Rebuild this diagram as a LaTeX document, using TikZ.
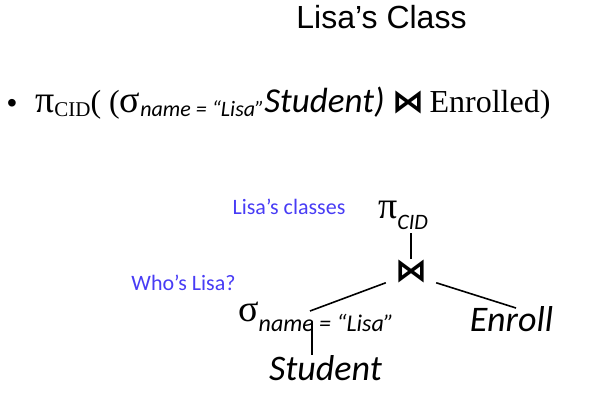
\documentclass[tikz,border=0pt]{standalone}
\usepackage{fontspec}
\setmainfont{Liberation Serif}
\newfontfamily\calfont{Carlito}
\newfontfamily\arialfont{Liberation Sans}
\newfontfamily\symfont{DejaVu Sans}
\usepackage{tikz}
\usetikzlibrary{positioning,calc}
\definecolor{notecol}{RGB}{72,60,245}

\begin{document}
\begin{tikzpicture}[x=1pt,y=-1pt,
    note/.style={text=notecol,font=\calfont\fontsize{22}{26}\selectfont,inner sep=0pt,anchor=base},
    rel/.style={font=\calfont\itshape\fontsize{36}{40}\selectfont,inner sep=0pt,anchor=base},
    edge/.style={line width=1.6pt}]
  \useasboundingbox (0,0) rectangle (604,401);
  \node[anchor=base,inner sep=0pt,font=\arialfont\fontsize{32}{38}\selectfont] (title) at (381.5,29) {Lisa’s Class};
  \node[anchor=base,inner sep=0pt,font=\arialfont\fontsize{28}{30}\selectfont] (bullet) at (12,112) {•};
  \node[anchor=base west,inner sep=0pt,font=\fontsize{32}{36}\selectfont] (expr) at (35,112)
    {{\fontsize{38}{38}\selectfont π}\raisebox{-4pt}{\fontsize{21}{22}\selectfont CID}(\hspace{8pt}({\fontsize{38}{38}\selectfont σ}\raisebox{-5pt}{\calfont\itshape\fontsize{22}{24}\selectfont name = “Lisa”}{\calfont\itshape\fontsize{35}{36}\selectfont Student)}\hspace{8pt}{\symfont\bfseries ⋈}\hspace{5pt}Enrolled)};
  % tree
  \node[note] (classes) at (289,214) {Lisa’s classes};
  \node[note] (who) at (183.5,290) {Who’s Lisa?};
  \node[anchor=base west,inner sep=0pt,font=\fontsize{38}{40}\selectfont] (pi) at (378,218)
    {π\raisebox{-11pt}{\calfont\itshape\fontsize{22}{22}\selectfont CID}};
  \node[minimum width=50pt,minimum height=22pt,inner sep=0pt,font=\symfont\bfseries\fontsize{32}{32}\selectfont] (join) at (411,271) {⋈};
  \node[anchor=base west,inner sep=0pt,font=\fontsize{38}{40}\selectfont] (sel) at (238,321)
    {σ\raisebox{-10pt}{\calfont\itshape\fontsize{24}{26}\selectfont name = “Lisa”}};
  \node[rel] (enroll) at (511.5,331) {Enroll};
  \node[rel] (student) at (325.5,380) {Student};
  \coordinate (selup) at (310,311);
  \coordinate (seldown) at (312,322);
  \draw[edge] (join.north) -- (join.north |- 0,233);
  \draw[edge] (join.south west) -- (selup);
  \draw[edge] (join.south east) -- (516,308);
  \draw[edge] (seldown) -- (seldown |- student.north);
\end{tikzpicture}
\end{document}
